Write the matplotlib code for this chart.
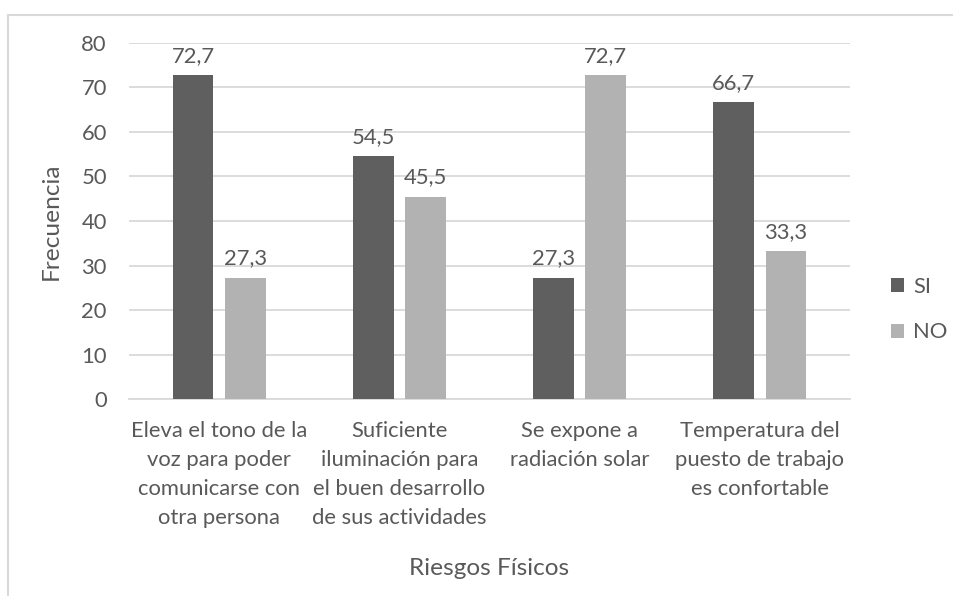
import numpy as np
import matplotlib.pyplot as plt
from matplotlib.patches import Rectangle

# Data
categories = ['Eleva el tono de la\nvoz para poder\ncomunicarse con\notra persona',
              'Suficiente\niluminación para\nel buen desarrollo\nde sus actividades',
              'Se expone a\nradiación solar',
              'Temperatura del\npuesto de trabajo\nes confortable']
si_values = [72.7, 54.5, 27.3, 66.7]
no_values = [27.3, 45.5, 72.7, 33.3]
series_names = ['SI', 'NO']
y_ticks = [0, 10, 20, 30, 40, 50, 60, 70, 80]

TEXT_COLOR = '#595959'
SI_COLOR = '#5f5f5f'
NO_COLOR = '#b2b2b2'
GRID_COLOR = '#d9d9d9'

plt.rcParams['font.family'] = ['Lato', 'DejaVu Sans']
FONT_SIZE = 15.8

fig = plt.figure(figsize=(9.54, 5.96), dpi=100)
ax = fig.add_axes([0.1352, 0.3305, 0.7558, 0.5974])

# Chart border (only top and left edges visible in the reference)
fig.patches.append(Rectangle((8.5 / 954, -0.1), 2.0, 1.1 - 14.5 / 596,
                             transform=fig.transFigure, fill=False,
                             edgecolor=GRID_COLOR, linewidth=1.5))

x = np.arange(len(categories))
bar_width = 0.227
offset = 0.145

bars_si = ax.bar(x - offset, si_values, bar_width, color=SI_COLOR, label=series_names[0], zorder=3)
bars_no = ax.bar(x + offset, no_values, bar_width, color=NO_COLOR, label=series_names[1], zorder=3)

for bars, values in ((bars_si, si_values), (bars_no, no_values)):
    for rect, val in zip(bars, values):
        ax.annotate(f'{val:.1f}'.replace('.', ','),
                    (rect.get_x() + rect.get_width() / 2, val),
                    xytext=(0, 6.5), textcoords='offset points',
                    ha='center', va='bottom', fontsize=FONT_SIZE, color=TEXT_COLOR)

ax.set_xlim(-0.5, len(categories) - 0.5)
ax.set_ylim(0, 80)
ax.set_yticks(y_ticks)
ax.yaxis.grid(True, color=GRID_COLOR, linewidth=1.3, zorder=0)
ax.set_axisbelow(True)

for side in ('top', 'right', 'left'):
    ax.spines[side].set_visible(False)
ax.spines['bottom'].set_color(GRID_COLOR)
ax.spines['bottom'].set_linewidth(1.3)

ax.set_xticks(x)
ax.set_xticklabels(categories, fontsize=FONT_SIZE, color=TEXT_COLOR, linespacing=1.55)
ax.tick_params(axis='x', length=0, pad=16)
ax.tick_params(axis='y', length=0, pad=16, labelsize=FONT_SIZE, labelcolor=TEXT_COLOR)

ax.set_ylabel('Frecuencia', fontsize=FONT_SIZE + 1.8, color=TEXT_COLOR)
ax.yaxis.set_label_coords(-0.093, 0.5)
ax.set_xlabel('Riesgos Físicos', fontsize=FONT_SIZE + 1.8, color=TEXT_COLOR)
ax.xaxis.set_label_coords(0.5, -0.4466)

leg = ax.legend(loc='center left', bbox_to_anchor=(1.045, 0.251), frameon=False,
                fontsize=FONT_SIZE, handlelength=0.6, handleheight=0.6,
                handletextpad=0.4, labelspacing=1.15, borderaxespad=0)
for t in leg.get_texts():
    t.set_color(TEXT_COLOR)

fig.savefig('out.png', dpi=100)
